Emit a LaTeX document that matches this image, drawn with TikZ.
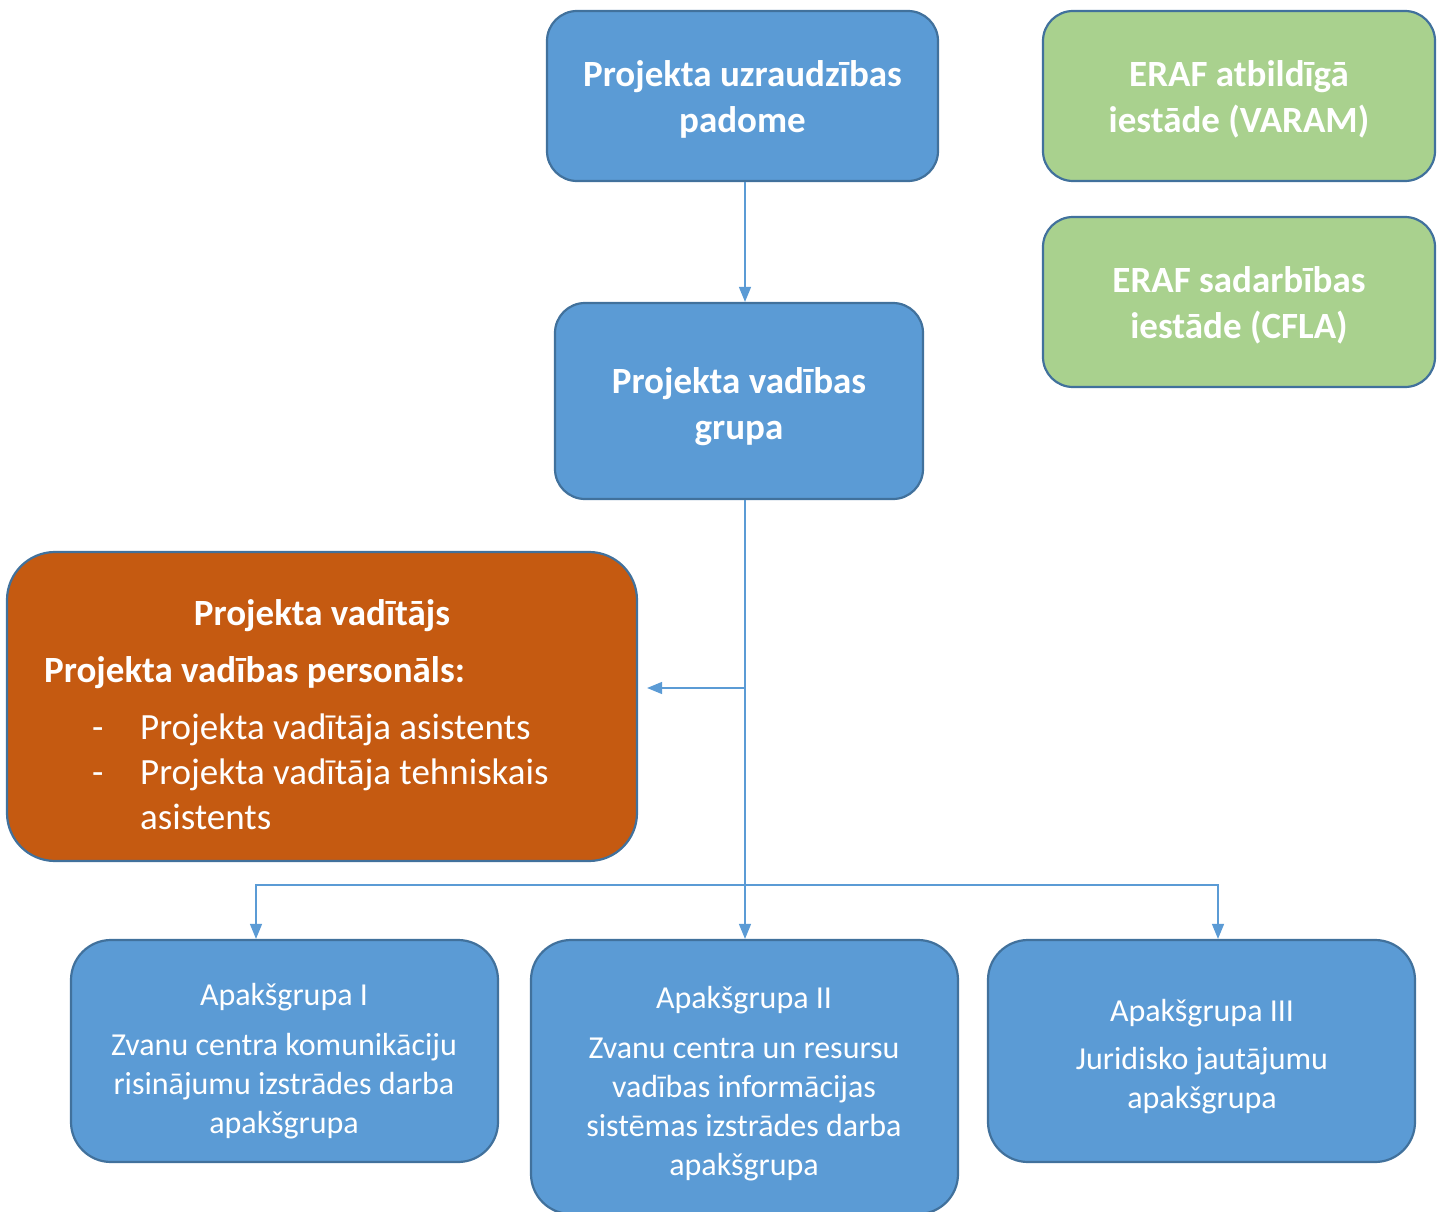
\documentclass[tikz,border=0pt]{standalone}
\usepackage{fontspec}
\setmainfont{Carlito}
\usetikzlibrary{arrows.meta,calc}
\definecolor{boxblue}{HTML}{5B9BD5}
\definecolor{edgeblue}{HTML}{41719C}
\definecolor{boxgreen}{HTML}{A9D18E}
\definecolor{boxorange}{HTML}{C55A11}
\definecolor{linkblue}{HTML}{5B9BD5}
\begin{document}
\begin{tikzpicture}[x=1pt,y=-1pt,
  box/.style={draw=edgeblue, line width=2.2pt, rounded corners=30pt,
    text=white, align=center, inner sep=0pt},
  bluebox/.style={box, fill=boxblue},
  greenbox/.style={box, fill=boxgreen},
  orangebox/.style={box, fill=boxorange, rounded corners=48pt},
  subbox/.style={bluebox, rounded corners=40pt, minimum width=427pt},
  headfont/.style={font=\fontsize{37}{46}\selectfont\bfseries},
  bodyfont/.style={font=\fontsize{32}{39}\selectfont},
  listfont/.style={font=\fontsize{37}{45}\selectfont},
  txt/.style={text=white, inner sep=0pt},
  link/.style={draw=linkblue, line width=1.4pt},
  tip/.style={-{Triangle[length=15pt,width=12pt]}}
]
\useasboundingbox (0,0) rectangle (1443,1212);

% upper level boxes
\node[bluebox, minimum width=391pt, minimum height=170pt] (board) at (742.5,96) {};
\node[greenbox, minimum width=392pt, minimum height=170pt] (varam) at (1239,96) {};
\node[greenbox, minimum width=392pt, minimum height=170pt] (cfla) at (1239,302) {};
\node[bluebox, minimum width=368pt, minimum height=196pt] (group) at (739,401) {};

\node[txt, headfont, align=center] (boardtxt) at ($(board.center)+(0,3.5)$)
  {Projekta uzraudzības\\padome};
\node[txt, headfont, align=center] (varamtxt) at ($(varam.center)+(0,3.5)$)
  {ERAF atbildīgā\\iestāde (VARAM)};
\node[txt, headfont, align=center] (cflatxt) at ($(cfla.center)+(0,3.5)$)
  {ERAF sadarbības\\iestāde (CFLA)};
\node[txt, headfont, align=center] (grouptxt) at ($(group.center)+(0,5.5)$)
  {Projekta vadības\\grupa};

% project manager and staff
\node[orangebox, minimum width=630pt, minimum height=309pt]
  (manager) at (322,706.5) {};
\node[txt, headfont, anchor=base] (mgrtitle) at (322,625) {Projekta vadītājs};
\node[txt, headfont, anchor=base west] (stafftitle) at (44,682) {Projekta vadības personāls:};
\node[txt, listfont, anchor=base west] (dash1) at (92,739) {-};
\node[txt, listfont, anchor=base west] (item1) at (140,739) {Projekta vadītāja asistents};
\node[txt, listfont, anchor=base west] (dash2) at (92,784) {-};
\node[txt, listfont, anchor=base west] (item2) at (140,784) {Projekta vadītāja tehniskais};
\node[txt, listfont, anchor=base west] (item2b) at (140,829) {asistents};

% subgroups
\node[subbox, minimum height=222pt] (subA) at (284.5,1051) {};
\node[subbox, minimum height=274pt] (subB) at (744.5,1077) {};
\node[subbox, minimum height=222pt] (subC) at (1201.5,1051) {};
\node[txt, bodyfont, align=center] (txtA) at (284,1061)
  {Apakšgrupa I\\[11pt]Zvanu centra komunikāciju\\risinājumu izstrādes darba\\apakšgrupa};
\node[txt, bodyfont, align=center] (txtB) at (744,1083.5)
  {Apakšgrupa II\\[11pt]Zvanu centra un resursu\\vadības informācijas\\sistēmas izstrādes darba\\apakšgrupa};
\node[txt, bodyfont, align=center] (txtC) at (1202,1057)
  {Apakšgrupa III\\[9pt]Juridisko jautājumu\\apakšgrupa};

% connectors
\coordinate (trunk) at (745,0);
\coordinate (tee) at (745,688);
\coordinate (split) at (745,885);
\coordinate (dropA) at (256,885);
\coordinate (dropC) at (1218,885);
\draw[link, tip] (board.south -| trunk) -- (group.north -| trunk);
\draw[link] (group.south -| trunk) -- (split);
\draw[link, tip] (tee) -- ([xshift=9pt]manager.east |- tee);
\draw[link, tip] (split) -- (subB.north -| split);
\draw[link, tip] (split) -| (subA.north -| dropA);
\draw[link, tip] (split) -| (subC.north -| dropC);
\end{tikzpicture}
\end{document}
